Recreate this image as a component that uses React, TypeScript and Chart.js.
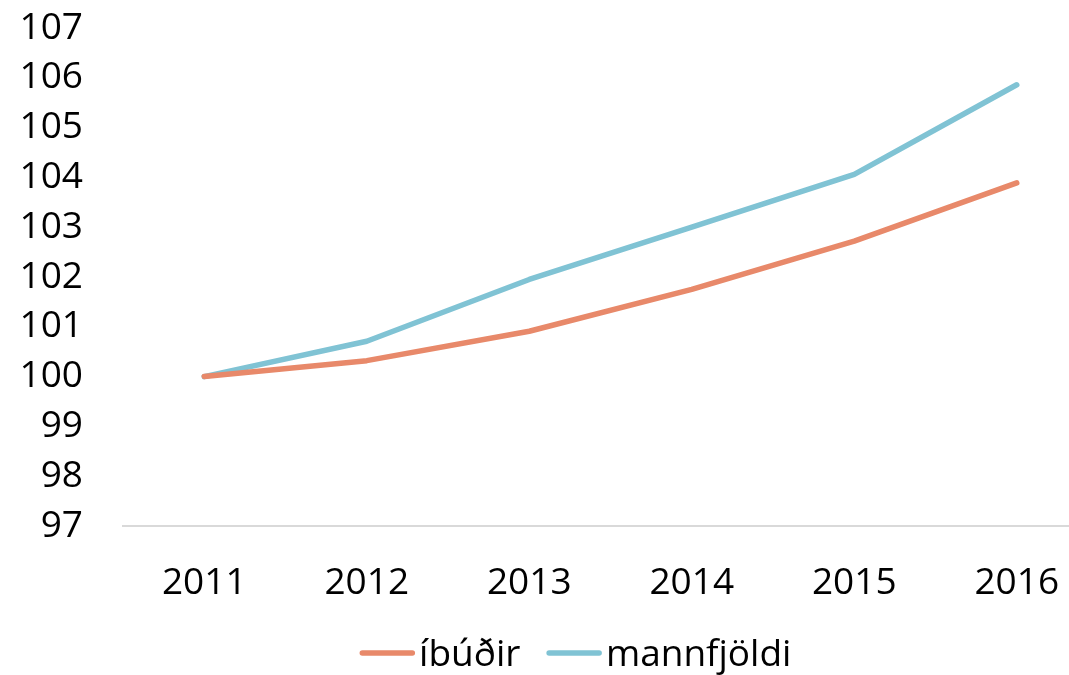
import React, { useEffect, useRef } from "react";
import { Chart, registerables } from "chart.js";

Chart.register(...registerables);

const years = ["2011", "2012", "2013", "2014", "2015", "2016"];
const ibudir = [100, 100.32, 100.91, 101.75, 102.72, 103.89];
const mannfjoldi = [100, 100.71, 101.95, 103.0, 104.06, 105.86];
const seriesLabels = ["íbúðir", "mannfjöldi"];
const seriesColors = ["#E8896A", "#80C3D4"];

const FONT = "'Open Sans', 'Noto Sans', sans-serif";

const legendPlugin = {
  id: "customLegend",
  afterDraw(chart: any) {
    const ctx = chart.ctx;
    ctx.save();
    ctx.font = `37px ${FONT}`;
    ctx.textBaseline = "middle";
    ctx.textAlign = "left";
    const seg = 50;
    const cap = 2.75;
    const gapText = 4;
    const gapItem = 26;
    const items = chart.data.datasets.map((d: any) => ({
      label: d.label,
      color: d.borderColor,
      tw: ctx.measureText(d.label).width,
    }));
    let total = 0;
    items.forEach((it: any, i: number) => {
      total += seg + 2 * cap + gapText + it.tw + (i < items.length - 1 ? gapItem : 0);
    });
    let x = chart.width / 2 - total / 2;
    const y = 653;
    items.forEach((it: any) => {
      ctx.strokeStyle = it.color;
      ctx.lineWidth = 5.5;
      ctx.lineCap = "round";
      ctx.beginPath();
      ctx.moveTo(x + cap, y);
      ctx.lineTo(x + cap + seg, y);
      ctx.stroke();
      x += seg + 2 * cap + gapText;
      ctx.fillStyle = "#000";
      ctx.fillText(it.label, x, y + 2);
      x += it.tw + gapItem;
    });
    ctx.restore();
  },
};

export default function App() {
  const canvasRef = useRef<HTMLCanvasElement | null>(null);

  useEffect(() => {
    document.body.style.margin = "0";
    const canvas = canvasRef.current;
    if (!canvas) return;
    const mkDataset = (label: string, data: number[], color: string) => ({
      label,
      data,
      borderColor: color,
      backgroundColor: color,
      borderWidth: 5.5,
      borderCapStyle: "round" as const,
      borderJoinStyle: "round" as const,
      pointRadius: 0,
      tension: 0,
    });
    const chart = new Chart(canvas, {
      type: "line",
      data: {
        labels: years,
        datasets: [
          mkDataset(seriesLabels[0], ibudir, seriesColors[0]),
          mkDataset(seriesLabels[1], mannfjoldi, seriesColors[1]),
        ],
      },
      options: {
        responsive: false,
        animation: false,
        layout: { padding: { top: 28, right: 53, bottom: 0, left: 0 } },
        plugins: {
          legend: { display: false },
          tooltip: { enabled: false },
        },
        scales: {
          x: {
            offset: true,
            grid: { display: false, drawTicks: false },
            border: { display: true, color: "#D9D9D9", width: 2 },
            ticks: {
              color: "#000",
              font: { family: FONT, size: 37 },
              padding: 35,
              maxRotation: 0,
              autoSkip: false,
            },
            afterFit(scale: any) {
              scale.height = 149;
              scale.paddingLeft = 0;
              scale.paddingRight = 0;
            },
          },
          y: {
            min: 97,
            max: 107,
            grid: { display: false, drawTicks: false },
            border: { display: false },
            ticks: {
              stepSize: 1,
              autoSkip: false,
              color: "#000",
              font: { family: FONT, size: 37 },
              padding: 40,
            },
            afterFit(scale: any) {
              scale.width = 123;
              scale.paddingTop = 0;
              scale.paddingBottom = 0;
            },
          },
        },
      },
      plugins: [legendPlugin],
    });
    return () => chart.destroy();
  }, []);

  return (
    <div style={{ position: "relative", width: 1069, height: 675, overflow: "hidden", background: "#fff" }}>
      <canvas ref={canvasRef} width={1151} height={675} style={{ display: "block" }} />
    </div>
  );
}
